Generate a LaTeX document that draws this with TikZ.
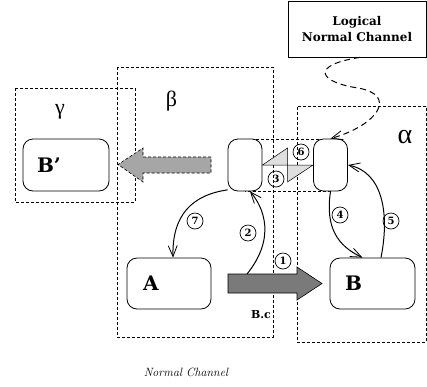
\documentclass[tikz,border=0pt]{standalone}
\usepackage{fontspec}
\newfontfamily\dvs{DejaVu Serif}
\newfontfamily\grk{Liberation Serif}
\usetikzlibrary{arrows.meta}
\begin{document}
\begin{tikzpicture}[x=1pt,y=-1pt,
  region/.style={draw, dash pattern=on 3pt off 2pt, line width=0.6pt},
  rbox/.style={draw, rounded corners=10pt, fill=white, line width=0.8pt, inner sep=0pt},
  port/.style={rbox, minimum width=34pt, minimum height=52pt},
  num/.style={circle, draw, line width=0.7pt, inner sep=0pt, minimum size=16pt, font=\dvs\bfseries\fontsize{10}{12}\selectfont},
  big/.style={font=\dvs\bfseries\fontsize{20}{24}\selectfont, align=left},
  greek/.style={font=\grk\fontsize{22}{26}\selectfont},
  barb/.style={-{Straight Barb[length=11pt,width=9pt,line width=0.8pt]}, line width=1pt}
]
\useasboundingbox (0,0) rectangle (427,386);
% regions
\draw[region] (15,88) rectangle (135,202);
\draw[region] (117,67) rectangle (273,337);
\draw[region] (426,106) -- (297,106) -- (297,342) -- (426,342) -- cycle;
\node[greek] (lg) at (60,112) {γ};
\node[greek] (lb) at (171.5,101) {β};
\node[greek, font=\grk\fontsize{28}{30}\selectfont] (la) at (405,137) {α};
% logical channel box
\node[draw, line width=0.8pt, minimum width=138pt, minimum height=56pt, align=center,
  font=\dvs\bfseries\fontsize{12}{16.5}\selectfont] (log) at (357,29) {Logical\\Normal Channel};
% dashed link rectangle between ports
\draw[region] (245,139) rectangle (330,191);
% ports
\node[port] (Lp) at (245,165) {};
\node[port] (Rp) at (330.5,165) {};
% triangles
\coordinate (tm) at (287.5,165);
\draw[fill=gray!25, line width=0.5pt] (Lp.east) -- (287.5,148) -- (tm) -- cycle;
\draw[fill=gray!25, line width=0.5pt] (tm) -- (287.5,182) -- (Rp.west) -- cycle;
% main boxes
\node[rbox, text width=84pt, minimum height=51pt, big] (A) at (169,283.5) {\hspace*{16pt}A};
\node[rbox, text width=85pt, minimum height=51pt, big] (B) at (372.5,283.5) {\hspace*{15pt}B};
\node[rbox, text width=86pt, minimum height=52pt, big] (Bp) at (66,165) {\hspace*{14pt}B’};
% big arrow A -> B
\draw[fill=black!52, line width=0.6pt]
  (228,274) -- (297,274) -- (297,267) -- (322,283.5) -- (297,300) -- (297,293) -- (228,293) -- cycle;
\coordinate (bat) at (247,274);
\node[font=\dvs\bfseries\fontsize{11}{13}\selectfont] (bc) at (261,315) {B.c};
% gray dashed arrow to B'
\draw[fill=black!35, dash pattern=on 3pt off 2pt, line width=0.6pt]
  (211,157) -- (143,157) -- (143,148) -- (118,164.5) -- (143,182) -- (143,173) -- (211,173) -- cycle;
% curved connectors
\draw[barb] (Lp.235) .. controls (192,195) and (172,215) .. ([xshift=4pt]A.north);
\draw[barb] (bat) .. controls (276,238) and (264,208) .. ([xshift=5pt]Lp.south);
\draw[barb] (Rp.south) .. controls (325,228) and (338,246) .. ([xshift=-10pt]B.north);
\draw[barb] ([xshift=8.5pt]B.north) .. controls (390,212) and (382,172) .. (Rp.east);
\draw[barb, dash pattern=on 6pt off 4pt] ([xshift=3pt]log.south) .. controls (310,65) and (318,82) .. (358,88)
  .. controls (398,95) and (378,125) .. (Rp.north);
% numbers
\node[num] (n1) at (283,261) {1};
\node[num] (n2) at (248,233) {2};
\node[num] (n3) at (276,179) {3};
\node[num] (n4) at (340,215) {4};
\node[num] (n5) at (391,221) {5};
\node[num] (n6) at (301,152) {6};
\node[num] (n7) at (195,221) {7};
% caption
\node[font=\itshape\fontsize{12}{14}\selectfont] (cap) at (186,372) {Normal Channel};
\end{tikzpicture}
\end{document}
